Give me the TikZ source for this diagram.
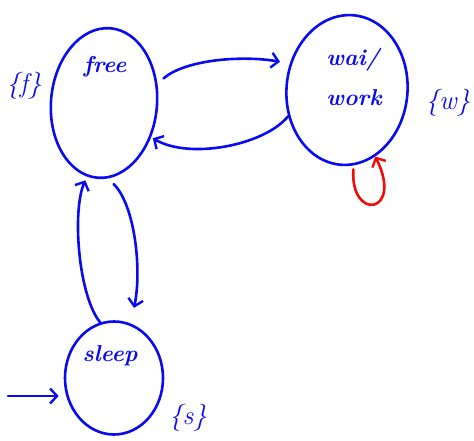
\documentclass[tikz,border=0pt]{standalone}
\usetikzlibrary{shapes.geometric,arrows.meta}
\definecolor{ink}{RGB}{10,10,240}
\definecolor{redink}{RGB}{240,10,10}
\begin{document}
\begin{tikzpicture}[x=1pt,y=-1pt,
  state/.style={draw=ink, ellipse, line width=2.6pt, inner sep=0pt},
  lbl/.style={text=ink, font=\fontsize{23}{25}\selectfont\bfseries\itshape, inner sep=0pt},
  outlbl/.style={lbl, font=\fontsize{27}{29}\selectfont\itshape},
  edge/.style={draw=ink, line width=2.6pt, line cap=round,
    -{Straight Barb[length=7pt,width=15pt,line width=2.4pt]}},
  loopedge/.style={edge, draw=redink}]
\useasboundingbox (0,0) rectangle (474,440);

% states
\node[state, minimum width=106pt, minimum height=150pt, rotate=-5] (free) at (104,103) {};
\node[state, minimum width=121pt, minimum height=150pt, rotate=-5] (wait) at (347,90) {};
\node[state, minimum width=98pt, minimum height=113pt] (sleep) at (114,378) {};

% state names and outputs
\node[lbl] (freetxt) at (105,67) {free};
\node[lbl] (waittxt) at (353,60) {wai/};
\node[lbl] (worktxt) at (354,98) {work};
\node[lbl] (sleeptxt) at (110,356) {sleep};
\node[outlbl] (fout) at (24,86) {\{f\}};
\node[outlbl] (wout) at (448,103) {\{w\}};
\node[outlbl] (sout) at (188,418) {\{s\}};

% transitions
\draw[edge, shorten <=8pt, shorten >=10pt]
  (free.25) .. controls (185,60) and (240,55) .. (wait.160);
\draw[edge, shorten >=2pt]
  (wait.209) .. controls (265,145) and (190,160) .. (free.-31);
\draw[edge, shorten <=8pt, shorten >=16pt]
  (free.-82) .. controls (135,205) and (142,270) .. (sleep.73);
\draw[edge, shorten >=4pt]
  (sleep.104) .. controls (78,295) and (72,210) .. (free.262);
\draw[loopedge, shorten <=4pt]
  (wait.-80) .. controls (350,222) and (404,214) .. (wait.-62);

% initial state marker
\coordinate (init) at (8,396);
\draw[edge, shorten >=5pt] (init) -- (sleep.west |- init);
\end{tikzpicture}
\end{document}
